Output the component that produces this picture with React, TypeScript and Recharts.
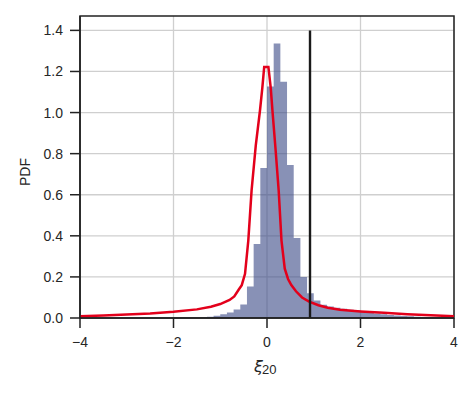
import { ComposedChart, Area, Line, XAxis, YAxis, CartesianGrid, ReferenceLine, ReferenceArea, Label } from "recharts";

// histogram: bins of width 1/7 from -4 to 4
const binStart = -4;
const binWidth = 8 / 56;
const binHeights = [
  0, 0, 0, 0, 0, 0, 0, 0, 0, 0, 0, 0, 0.001, 0.001, 0.001, 0.002,
  0.002, 0.003, 0.004, 0.006, 0.011, 0.018, 0.027, 0.041, 0.066, 0.153, 0.36, 0.73,
  1.127, 1.336, 1.15, 0.745, 0.39, 0.2, 0.12, 0.085, 0.064, 0.056, 0.05, 0.045,
  0.04, 0.036, 0.03, 0.026, 0.022, 0.018, 0.015, 0.012, 0.01, 0.008, 0.006, 0.005,
  0.004, 0.003, 0.002, 0.002,
];

// kde curve
const kdeX = [-4, -3.5, -3, -2.5, -2, -1.5, -1.2, -1.0, -0.8, -0.7, -0.6, -0.54, -0.47, -0.4, -0.33, -0.24, -0.15, -0.1, -0.06, 0.03, 0.08, 0.12, 0.18, 0.25, 0.31, 0.38, 0.45, 0.52, 0.62, 0.75, 0.9, 1.1, 1.3, 1.56, 2, 2.5, 3, 3.5, 4];
const kdeY = [0.008, 0.012, 0.017, 0.022, 0.03, 0.042, 0.055, 0.068, 0.088, 0.105, 0.14, 0.16, 0.215, 0.377, 0.62, 0.84, 1.01, 1.12, 1.222, 1.222, 1.12, 1.0, 0.83, 0.62, 0.377, 0.24, 0.19, 0.16, 0.13, 0.1, 0.08, 0.062, 0.05, 0.04, 0.032, 0.025, 0.018, 0.013, 0.009];

const threshold = 0.92;
const xTicks = [-4, -2, 0, 2, 4];
const yTicks = [0, 0.2, 0.4, 0.6, 0.8, 1.0, 1.2, 1.4];

const histData = [
  ...binHeights.map((h, i) => ({ x: binStart + i * binWidth, h })),
  { x: 4, h: 0 },
];
const kdeData = kdeX.map((x, i) => ({ x, y: kdeY[i] }));

const font = "'Liberation Sans', Arial, sans-serif";
const ink = "#262626";

const XLabel = () => (
  <text x={254} y={372} fill={ink} fontFamily={font}>
    <tspan fontFamily="'DejaVu Sans', sans-serif" fontStyle="italic" fontSize={16}>ξ</tspan>
    <tspan fontSize={13} dx={-1} dy={2}>20</tspan>
  </text>
);

const YLabel = () => (
  <text x={25} y={172} transform="rotate(-90 25 172)" textAnchor="middle" dominantBaseline="central" fill={ink} fontFamily={font} fontSize={14}>
    PDF
  </text>
);

export default function App() {
  return (
    <div style={{ position: "absolute", left: 0, top: 0, background: "#fff" }}>
      <ComposedChart width={474} height={393} margin={{ top: 16, right: 20, bottom: 30, left: 12 }}>
        <CartesianGrid stroke="#cfcfcf" strokeWidth={1.3} horizontalValues={yTicks} verticalValues={xTicks} />
        <XAxis
          type="number"
          dataKey="x"
          domain={[-4, 4]}
          ticks={xTicks}
          allowDataOverflow
          height={45}
          tickSize={10}
          tickMargin={9}
          tickFormatter={(v: number) => (v < 0 ? `\u2212${Math.abs(v)}` : `${v}`)}
          tick={{ fill: ink, fontSize: 14, fontFamily: font }}
          stroke="#222"
          strokeWidth={1.5}
          tickLine={{ stroke: "#222", strokeWidth: 1.5 }}
        >
          <Label content={<XLabel />} />
        </XAxis>
        <YAxis
          type="number"
          domain={[0, 1.47]}
          ticks={yTicks}
          allowDataOverflow
          width={68}
          tickSize={10}
          tickMargin={7}
          tickFormatter={(v: number) => v.toFixed(1)}
          tick={{ fill: ink, fontSize: 14, fontFamily: font }}
          stroke="#222"
          strokeWidth={1.5}
          tickLine={{ stroke: "#222", strokeWidth: 1.5 }}
        >
          <Label content={<YLabel />} />
        </YAxis>
        <Area
          data={histData}
          dataKey="h"
          type="stepAfter"
          stroke="none"
          fill="#394885"
          fillOpacity={0.6}
          isAnimationActive={false}
          dot={false}
          activeDot={false}
        />
        <Line
          data={kdeData}
          dataKey="y"
          type="linear"
          stroke="#e3001b"
          strokeWidth={2.5}
          dot={false}
          activeDot={false}
          isAnimationActive={false}
        />
        <ReferenceLine
          segment={[{ x: threshold, y: 0 }, { x: threshold, y: 1.4 }]}
          stroke="#1a1a1a"
          strokeWidth={2.4}
        />
        <ReferenceArea x1={-4} x2={4} y1={0} y2={1.47} fill="none" stroke="#222" strokeWidth={1.5} ifOverflow="visible" />
      </ComposedChart>
    </div>
  );
}
